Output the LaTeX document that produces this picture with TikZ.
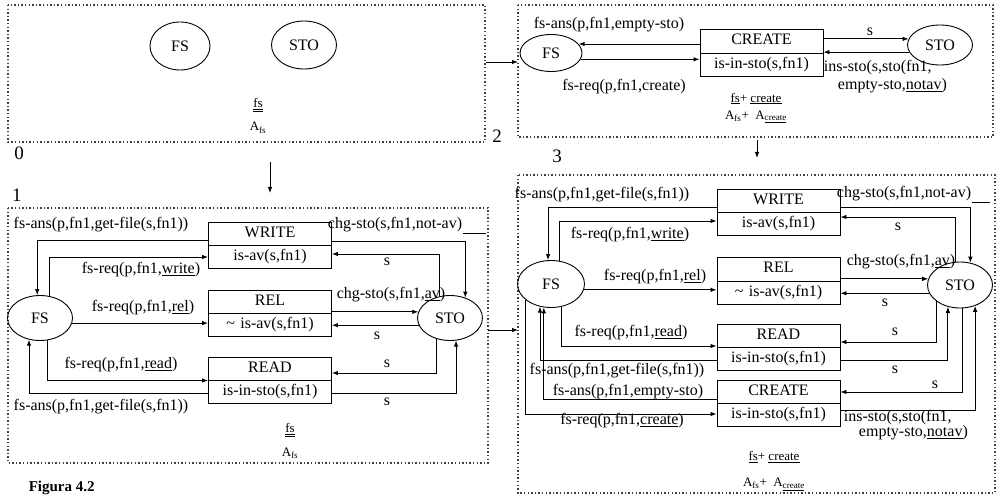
\documentclass[tikz,border=0pt]{standalone}
\usepackage{fontspec}
\setmainfont{Liberation Serif}
\usetikzlibrary{shapes.geometric, shapes.multipart, arrows.meta, calc}

\begin{document}
\begin{tikzpicture}[x=1pt, y=-1pt, line width=0.9pt,
        font=\fontsize{16}{18}\selectfont,
        agent/.style={ellipse, draw, inner sep=0pt, minimum width=65pt, minimum height=45pt},
        opbox/.style={rectangle split, rectangle split parts=2, draw, text width=117pt, align=center, inner xsep=3pt, inner ysep=2.2pt},
        line/.style={draw, -{Latex[length=6pt,width=4.5pt]}},
        panel/.style={draw, line width=1.4pt, dash pattern=on 1.4pt off 2.2pt, black!75},
        lbl/.style={inner sep=0.5pt},
        num/.style={font=\fontsize{19}{22}\selectfont},
        formula/.style={align=center, inner sep=0pt}]

        \useasboundingbox (0,0) rectangle (998,497);

        % Panels
        \draw[panel] (8,5) rectangle (485,142);
        \draw[panel] (8,208) rectangle (488,463);
        \draw[panel] (518,5) rectangle (993,137);
        \draw[panel] (518,175) rectangle (995,493);

        \node[num] (n0) at (19,153) {0};
        \node[num] (n1) at (17,195) {1};
        \node[num] (n2) at (497,136) {2};
        \node[num] (n3) at (557,156) {3};

        % Panel 0
        \node[agent, minimum width=60pt, minimum height=48pt] (fs0) at (180,46) {FS};
        \node[agent, minimum height=48pt] (sto0) at (304,45) {STO};
        \node[formula, font=\fontsize{13}{23}\selectfont] (ag0) at (258,116) {\underline{\underline{fs}}\\A\textsubscript{fs}};

        % Panel 1 - nodes
        \node[agent] (fs1) at (40,318) {FS};
        \node[agent] (sto1) at (450,318) {STO};
        \node[opbox] (w1) at (270,245.5) {\strut WRITE\nodepart{two}\strut is-av(s,fn1)};
        \node[opbox] (r1) at (270,313.5) {\strut REL\nodepart{two}\strut \textasciitilde{} is-av(s,fn1)};
        \node[opbox] (rd1) at (270,380.5) {\strut READ\nodepart{two}\strut is-in-sto(s,fn1)};

        % Panel 1 - arrows
        \path[line] ([yshift=5.5pt]w1.text split west) -| (fs1.97);
        \path[line] (fs1.67) |- ([yshift=-11.5pt]w1.text split west);
        \path[line] (fs1.-9) -- (fs1.-9 -| r1.west);
        \path[line] (fs1.288) |- (rd1.text split west);
        \path[line] ([yshift=-12.5pt]rd1.text split west) -| (fs1.243);
        \path[line] ([yshift=4.5pt]w1.text split east) -| (sto1.53);
        \path[line] (sto1.115) |- ([yshift=-8.5pt]w1.text split east);
        \path[line] (sto1.169 -| r1.east) -- (sto1.169);
        \path[line] (sto1.193) -- (sto1.193 -| r1.east);
        \path[line] (sto1.238) |- ([yshift=7.5pt]rd1.text split east);
        \path[line] ([yshift=-12.5pt]rd1.text split east) -| (sto1.285);

        % Panel 1 - labels
        \node[lbl] (answ1) at (101,225) {fs-ans(p,fn1,get-file(s,fn1))};
        \node[lbl] (reqw1) at (141,270) {fs-req(p,fn1,\underline{write})};
        \node[lbl] (reqr1) at (143,308) {fs-req(p,fn1,\underline{rel})};
        \node[lbl] (reqrd1) at (121,365) {fs-req(p,fn1,\underline{read})};
        \node[lbl] (ansrd1) at (101,407) {fs-ans(p,fn1,get-file(s,fn1))};
        \node[lbl] (chgw1) at (395,225) {chg-sto(s,fn1,not-av)};
        \draw (chgw1.south east) -- ++(23,0);
        \node[lbl] (sw1) at (387,262) {s};
        \node[lbl] (chgr1) at (391,295) {chg-sto(s,fn1,\underline{av})};
        \node[lbl] (sr1) at (377,336) {s};
        \node[lbl] (srd1) at (387,364) {s};
        \node[lbl] (srd1b) at (387,402) {s};
        \node[formula, font=\fontsize{13}{24}\selectfont] (ag1) at (290,441) {\underline{\underline{fs}}\\A\textsubscript{fs}};

        % Panel 2
        \node[agent, minimum width=62pt, minimum height=37pt] (fs2) at (551,53) {FS};
        \node[agent, minimum height=40pt] (sto2) at (940,45) {STO};
        \node[opbox] (c2) at (761.5,53) {\strut CREATE\nodepart{two}\strut is-in-sto(s,fn1)};

        \path[line] (fs2.18 -| c2.west) -- (fs2.18);
        \path[line] (fs2.-12) -- (fs2.-12 -| c2.west);
        \path[line] (sto2.169 -| c2.east) -- (sto2.169);
        \path[line] (sto2.193) -- (sto2.193 -| c2.east);

        \node[lbl] (ansc2) at (609,25) {fs-ans(p,fn1,empty-sto)};
        \node[lbl] (reqc2) at (624,87) {fs-req(p,fn1,create)};
        \node[lbl] (sc2) at (870,32) {s};
        \node[lbl, align=left, anchor=west, font=\fontsize{16}{18}\selectfont] (ins2) at (823,77) {ins-sto(s,sto(fn1,\\\hspace*{14pt}empty-sto,\underline{notav})};
        \node[formula, font=\fontsize{13}{17}\selectfont] (ag2) at (756,108) {\underline{fs}+ \underline{create}\\A\textsubscript{fs}+ \ A\textsubscript{\underline{create}}};

        % Panel 3 - nodes
        \node[agent, minimum width=67pt, minimum height=47pt] (fs3) at (551,284) {FS};
        \node[agent, minimum height=46pt] (sto3) at (960,285) {STO};
        \node[opbox] (w3) at (778.5,212.5) {\strut WRITE\nodepart{two}\strut is-av(s,fn1)};
        \node[opbox] (r3) at (778.5,281) {\strut REL\nodepart{two}\strut \textasciitilde{} is-av(s,fn1)};
        \node[opbox] (rd3) at (778.5,347.5) {\strut READ\nodepart{two}\strut is-in-sto(s,fn1)};
        \node[opbox] (c3) at (778.5,403.5) {\strut CREATE\nodepart{two}\strut is-in-sto(s,fn1)};

        % Panel 3 - arrows
        \path[line] ([yshift=5.5pt]w3.text split west) -| (fs3.97);
        \path[line] (fs3.71) |- ([yshift=-8.5pt]w3.text split west);
        \path[line] (fs3.-10) -- (fs3.-10 -| r3.west);
        \path[line] (fs3.294) |- ([yshift=1.5pt]rd3.text split west);
        \path[line] ([yshift=-12.5pt]rd3.text split west) -| (fs3.244);
        \path[line] ([yshift=4.5pt]c3.text split west) -| (fs3.253);
        \path[line] (fs3.212) |- ([yshift=-10.5pt]c3.text split west);
        \path[line] ([yshift=5.5pt]w3.text split east) -| (sto3.65);
        \path[line] (sto3.100) |- ([yshift=-4.5pt]w3.text split east);
        \path[line] (sto3.169 -| r3.east) -- (sto3.169);
        \path[line] (sto3.195) -- (sto3.195 -| r3.east);
        \path[line] (sto3.215) |- ([yshift=5.5pt]rd3.text split east);
        \path[line] ([yshift=-12.5pt]rd3.text split east) -| (sto3.241);
        \path[line] (sto3.275) |- ([yshift=11.5pt]c3.text split east);
        \path[line] ([yshift=-6.5pt]c3.text split east) -| (sto3.306);

        % Panel 3 - labels
        \node[lbl] (answ3) at (602,195) {fs-ans(p,fn1,get-file(s,fn1))};
        \node[lbl] (reqw3) at (630,235) {fs-req(p,fn1,\underline{write})};
        \node[lbl] (reqr3) at (655,277) {fs-req(p,fn1,\underline{rel})};
        \node[lbl] (reqrd3) at (631,333) {fs-req(p,fn1,\underline{read})};
        \node[lbl] (ansrd3) at (617,371) {fs-ans(p,fn1,get-file(s,fn1))};
        \node[lbl] (ansc3) at (628,392) {fs-ans(p,fn1,empty-sto)};
        \node[lbl] (reqc3) at (622,421) {fs-req(p,fn1,\underline{create})};
        \node[lbl] (chgw3) at (904,194) {chg-sto(s,fn1,not-av)};
        \draw (chgw3.south east) -- ++(18,0);
        \node[lbl] (sw3) at (898,227) {s};
        \node[lbl] (chgr3) at (901,262) {chg-sto(s,fn1,\underline{av})};
        \node[lbl] (sr3) at (885,303) {s};
        \node[lbl] (srd3) at (895,332) {s};
        \node[lbl] (srd3b) at (895,370) {s};
        \node[lbl] (sc3) at (935,385) {s};
        \node[lbl, align=left, anchor=west, font=\fontsize{16}{12.5}\selectfont] (ins3) at (843,425) {ins-sto(s,sto(fn1,\\\hspace*{15pt}empty-sto,\underline{notav})};
        \node[formula, font=\fontsize{13}{26}\selectfont] (ag3) at (774,471) {\underline{fs}+ \underline{create}\\A\textsubscript{fs}+ \ A\textsubscript{\underline{create}}};

        % Steps between panels
        \coordinate (d0) at (270,162);
        \coordinate (d1) at (270,193);
        \coordinate (e0) at (486,62);
        \coordinate (e2) at (518,62);
        \coordinate (d2) at (757,140);
        \coordinate (d3) at (757,158);
        \coordinate (e1) at (488,330);
        \coordinate (e3) at (518,330);
        \path[line] (d0) -- (d1);
        \path[line] (e0) -- (e2);
        \path[line] (d2) -- (d3);
        \path[line] (e1) -- (e3);

        \node[anchor=base west, font=\bfseries\fontsize{15}{18}\selectfont] (fig) at (25,491) {Figura 4.2};
    \end{tikzpicture}
\end{document}
